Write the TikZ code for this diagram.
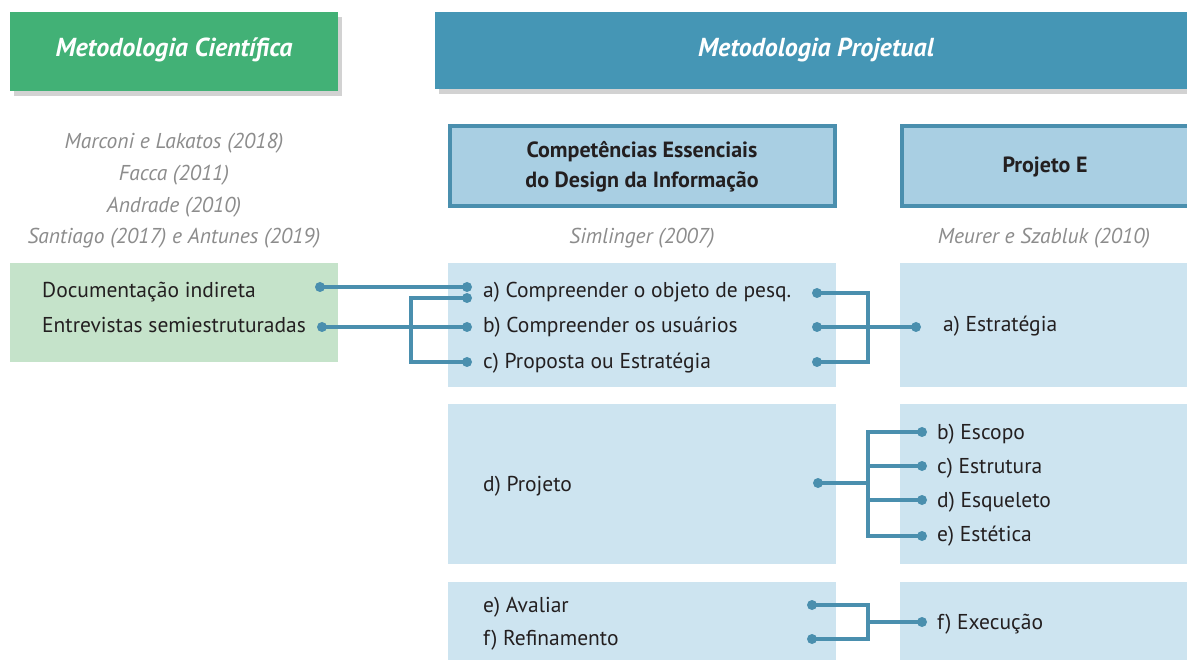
\documentclass[tikz,border=0pt]{standalone}
\usepackage{fontspec}
\setmainfont{PT Sans}
\usetikzlibrary{calc}

\definecolor{headgreen}{HTML}{42B176}
\definecolor{headblue}{HTML}{4596B5}
\definecolor{shadowgray}{HTML}{D2D2D2}
\definecolor{framedblue}{HTML}{4A8FAE}
\definecolor{titleblue}{HTML}{A9CFE3}
\definecolor{paleblue}{HTML}{CDE4F0}
\definecolor{palegreen}{HTML}{C5E3CA}
\definecolor{linkblue}{HTML}{4A8FAE}
\definecolor{textdark}{HTML}{231F20}
\definecolor{refgray}{HTML}{8C8C8C}

\begin{document}
\begin{tikzpicture}[x=1pt,y=1pt]
\tikzstyle{every node}+=[inner sep=0pt]
\tikzstyle{item}=[anchor=base west,yshift=-7pt,text=textdark,font=\fontsize{21.5}{24}\selectfont]
\tikzstyle{ref}=[anchor=base,yshift=-7pt,text=refgray,font=\itshape\fontsize{21.5}{24}\selectfont]
\tikzstyle{head}=[anchor=base,yshift=-8pt,text=white,font=\bfseries\itshape\fontsize{26}{30}\selectfont]
\tikzstyle{title}=[text=textdark,align=center,font=\bfseries\fontsize{22}{30}\selectfont]
\tikzstyle{link}=[draw=linkblue,line width=4pt]
\tikzstyle{dot}=[fill=linkblue]
\useasboundingbox (0,0) rectangle (1187,-660);
\fill[white] (0,0) rectangle (1187,-660);

% headers
\fill[shadowgray] (14,-17) rectangle (342,-96);
\fill[headgreen] (10,-12) rectangle (338,-91);
\node[head] (cient) at (174,-49) {Metodologia Científica};
\fill[shadowgray] (439,-17) rectangle (1187,-94);
\fill[headblue] (435,-12) rectangle (1187,-89);
\node[head] (projet) at (816,-49) {Metodologia Projetual};

% title boxes
\draw[line width=4pt,draw=framedblue,fill=titleblue] (450,-126) rectangle (835,-206);
\node[title] (comp) at (642,-167) {Competências Essenciais\\do Design da Informação};
\draw[line width=4pt,draw=framedblue,fill=titleblue] (902,-126) rectangle (1189,-206);
\node[title] (proje) at (1045,-167) {Projeto E};

% references
\node[ref] (r1) at (174,-142) {Marconi e Lakatos (2018)};
\node[ref] (r2) at (174,-174) {Facca (2011)};
\node[ref] (r3) at (174,-206) {Andrade (2010)};
\node[ref] (r4) at (174,-237) {Santiago (2017) e Antunes (2019)};
\node[ref] (r5) at (642,-237) {Simlinger (2007)};
\node[ref] (r6) at (1044,-237) {Meurer e Szabluk (2010)};

% panels
\fill[palegreen] (10,-263) rectangle (338,-362);
\fill[paleblue] (448,-263) rectangle (836,-387);
\fill[paleblue] (448,-404) rectangle (836,-564);
\fill[paleblue] (448,-582) rectangle (836,-660);
\fill[paleblue] (900,-263) rectangle (1187,-387);
\fill[paleblue] (900,-404) rectangle (1187,-564);
\fill[paleblue] (900,-582) rectangle (1187,-660);

% items
\node[item] (doc) at (42,-291) {Documentação indireta};
\node[item] (entr) at (42,-326) {Entrevistas semiestruturadas};
\node[item] (ia) at (483,-291) {a) Compreender o objeto de pesq.};
\node[item] (ib) at (483,-326) {b) Compreender os usuários};
\node[item] (ic) at (483,-362) {c) Proposta ou Estratégia};
\node[item] (id) at (483,-484) {d) Projeto};
\node[item] (ie) at (483,-605) {e) Avaliar};
\node[item] (if) at (483,-638) {f) Refinamento};
\node[item] (ja) at (943,-325) {a) Estratégia};
\node[item] (jb) at (937,-432) {b) Escopo};
\node[item] (jc) at (937,-466) {c) Estrutura};
\node[item] (jd) at (937,-500) {d) Esqueleto};
\node[item] (je) at (937,-534) {e) Estética};
\node[item] (jf) at (937,-622) {f) Execução};

% dots
\coordinate (docR) at (320,-287);
\coordinate (entrR) at (322,-327);
\coordinate (aL) at (467,-287);
\coordinate (aL2) at (467,-298);
\coordinate (bL) at (467,-327);
\coordinate (cL) at (467,-362);
\coordinate (brkA) at (411,-362);
\coordinate (aR) at (817,-293);
\coordinate (bR) at (817,-327);
\coordinate (cR) at (817,-362);
\coordinate (brkB) at (868,-327);
\coordinate (jaL) at (916,-327);
\coordinate (dR) at (818,-483);
\coordinate (brkC) at (868,-483);
\coordinate (jbL) at (922,-432);
\coordinate (jcL) at (922,-466);
\coordinate (jdL) at (922,-500);
\coordinate (jeL) at (922,-536);
\coordinate (eR) at (812,-605);
\coordinate (fR) at (812,-639);
\coordinate (brkD) at (868,-622);
\coordinate (jfL) at (922,-622);

% connectors
\draw[link] (docR) -- (aL);
\draw[link] (entrR) -- (bL);
\draw[link] (aL2) -| (brkA) -- (cL);
\draw[link] (aR) -| (brkB) |- (cR);
\draw[link] (bR) -- (jaL);
\draw[link] (dR) -- (brkC);
\draw[link] (jbL) -| (brkC |- jeL) -- (jeL);
\draw[link] (brkC |- jcL) -- (jcL);
\draw[link] (brkC |- jdL) -- (jdL);
\draw[link] (eR) -| (brkD) |- (fR);
\draw[link] (brkD) -- (jfL);
\foreach \p in {docR,entrR,aL,aL2,bL,cL,aR,bR,cR,jaL,dR,jbL,jcL,jdL,jeL,eR,fR,jfL}
  \fill[dot] (\p) circle (5);
\end{tikzpicture}
\end{document}
